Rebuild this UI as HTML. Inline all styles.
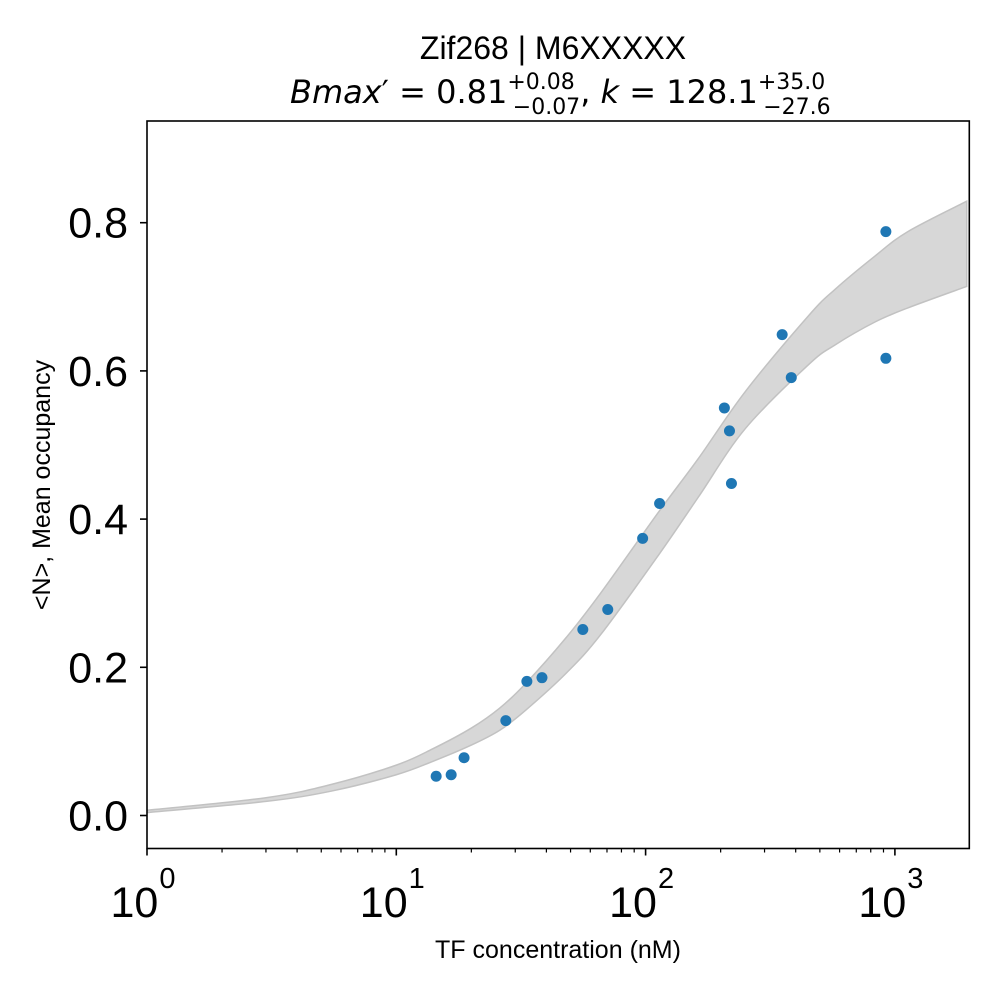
<!DOCTYPE html>
<html><head><meta charset="utf-8"><style>
html,body{margin:0;padding:0;background:#fff;}
svg{display:block;font-family:"Liberation Sans",Arial,sans-serif;}
</style></head><body>
<svg id="chart" width="1000" height="1000" viewBox="0 0 1000 1000">
<rect width="1000" height="1000" fill="#fff"/>
<text x="553" y="59" font-size="32" text-anchor="middle" fill="#000">Zif268 | M6XXXXX</text>
<text x="290" y="103" font-size="32" fill="#000" font-family="'DejaVu Sans',sans-serif"><tspan font-style="italic">Bmax</tspan>′ = 0.81<tspan font-size="22" dy="-14">+0.08</tspan><tspan font-size="22" dx="-62" dy="25">−0.07</tspan><tspan dy="-11">, </tspan><tspan font-style="italic">k</tspan> = 128.1<tspan font-size="22" dy="-14">+35.0</tspan><tspan font-size="22" dx="-62" dy="25">−27.6</tspan></text>
<g id="plot"></g>
<text x="558" y="958" font-size="25" text-anchor="middle" fill="#000">TF concentration (nM)</text>
<text transform="translate(50,485) rotate(-90)" font-size="25" text-anchor="middle" fill="#000">&lt;N&gt;, Mean occupancy</text>
</svg>
<script>
const concX = [14.45, 16.6, 18.7, 27.5, 33.4, 38.4, 56, 70.5, 97.3, 113.8, 207, 217, 221, 353, 384, 920, 920];
const occY = [0.053, 0.055, 0.078, 0.128, 0.181, 0.186, 0.251, 0.278, 0.374, 0.421, 0.550, 0.519, 0.448, 0.649, 0.591, 0.788, 0.617];
const bandX = [1, 3, 5.5, 10, 14, 20, 26, 33, 48, 66, 113, 163, 251, 449, 575, 832, 1127, 1941];
const bandUpper = [0.007, 0.024, 0.042, 0.068, 0.090, 0.118, 0.145, 0.178, 0.240, 0.300, 0.410, 0.482, 0.572, 0.674, 0.710, 0.755, 0.788, 0.829];
const bandLower = [0.004, 0.019, 0.033, 0.055, 0.073, 0.095, 0.115, 0.142, 0.192, 0.244, 0.352, 0.430, 0.522, 0.608, 0.635, 0.666, 0.685, 0.714];
const yTicks = [0.0, 0.2, 0.4, 0.6, 0.8];
const yTickLabels = ["0.0", "0.2", "0.4", "0.6", "0.8"];
const xDecades = [0, 1, 2, 3];

const L = 147, R = 969.3, T = 121, B = 848.5;
const X0 = 147, DEC = 249.3;
const Y0 = 815.5, YS = 741;
function sx(v){ return X0 + Math.log10(v) * DEC; }
function sy(v){ return Y0 - v * YS; }
const NS = "http://www.w3.org/2000/svg";
const g = document.getElementById('plot');
function mk(tag, attrs){ const e = document.createElementNS(NS, tag); for (const k in attrs) e.setAttribute(k, attrs[k]); return e; }

function smooth(pts, start){
  let s = start ? 'M' + pts[0][0].toFixed(2) + ',' + pts[0][1].toFixed(2) : 'L' + pts[0][0].toFixed(2) + ',' + pts[0][1].toFixed(2);
  for (let i = 0; i < pts.length-1; i++){
    const p0 = pts[Math.max(0,i-1)], p1 = pts[i], p2 = pts[i+1], p3 = pts[Math.min(pts.length-1,i+2)];
    const c1x = p1[0] + (p2[0]-p0[0])/6, c1y = p1[1] + (p2[1]-p0[1])/6;
    const c2x = p2[0] - (p3[0]-p1[0])/6, c2y = p2[1] - (p3[1]-p1[1])/6;
    s += 'C' + c1x.toFixed(2)+','+c1y.toFixed(2)+' '+c2x.toFixed(2)+','+c2y.toFixed(2)+' '+p2[0].toFixed(2)+','+p2[1].toFixed(2);
  }
  return s;
}

const defs = mk('defs', {});
const cp = mk('clipPath', {id:'clip'});
cp.appendChild(mk('rect', {x:L, y:T, width:R-L, height:B-T}));
defs.appendChild(cp); g.appendChild(defs);

const up = bandX.map((x,i)=>[sx(x), sy(bandUpper[i])]);
const lo = bandX.map((x,i)=>[sx(x), sy(bandLower[i])]).reverse();
const d = smooth(up, true) + smooth(lo, false) + 'Z';
const band = mk('path', {d:d, fill:'#d7d7d7', stroke:'#c2c2c2', 'stroke-width':'1.5', 'clip-path':'url(#clip)'});


g.appendChild(band);

concX.forEach((x,i)=>{
  const c = mk('circle', {cx:sx(x), cy:sy(occY[i]), r:5.5, fill:'#1f77b4'});
  
  
  g.appendChild(c);
});

const fr = mk('rect', {x:L, y:T, width:R-L, height:B-T, fill:'none', stroke:'#000', 'stroke-width':'1.6'});


g.appendChild(fr);

yTicks.forEach((v,i)=>{
  const y = sy(v);
  const t = mk('line', {x1:L-7, x2:L, y1:y, y2:y, stroke:'#000', 'stroke-width':'1.6'});
  
  
  g.appendChild(t);
  const lb = mk('text', {x:L-19, y:y+15, 'font-size':'43', 'text-anchor':'end', fill:'#000'});
  lb.textContent = yTickLabels[i];
  
  
  g.appendChild(lb);
});

xDecades.forEach(p=>{
  const x = sx(Math.pow(10,p));
  const t = mk('line', {x1:x, x2:x, y1:B, y2:B+7, stroke:'#000', 'stroke-width':'1.6'});
  
  
  g.appendChild(t);
  const lb = mk('text', {x:x-4, y:917, 'font-size':'43', 'text-anchor':'middle', fill:'#000'});
  lb.textContent = '10';
  const sup = mk('tspan', {'font-size':'29', dy:'-29', dx:'1'});
  sup.textContent = String(p);
  lb.appendChild(sup);
  
  
  g.appendChild(lb);
  for (let m = 2; m <= 9; m++){
    const v = m * Math.pow(10,p);
    const mx = sx(v);
    if (mx > R + 0.5) continue;
    const mt = mk('line', {x1:mx, x2:mx, y1:B, y2:B+4, stroke:'#000', 'stroke-width':'1.2'});
    
    
    g.appendChild(mt);
  }
});
</script>
</body></html>
